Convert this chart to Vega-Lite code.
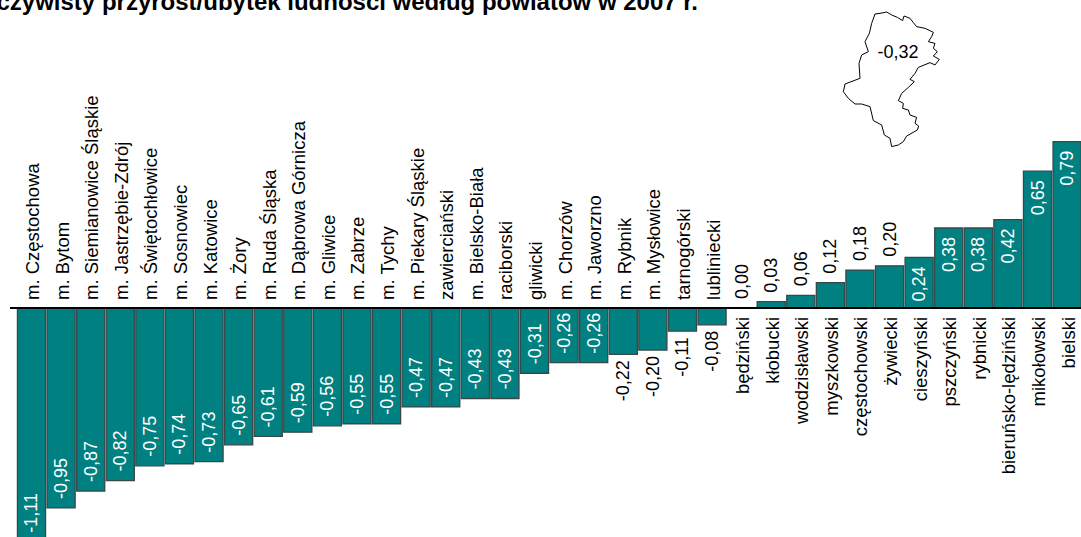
{"$schema":"https://vega.github.io/schema/vega-lite/v6.json","width":1081,"height":537,"padding":0,"autosize":{"type":"none"},"background":"white","config":{"view":{"stroke":null},"text":{"font":"Liberation Sans"}},
"datasets":{"bars":[
{"n":"m. Częstochowa","v":-1.11,"l":"-1,11"},{"n":"m. Bytom","v":-0.95,"l":"-0,95"},{"n":"m. Siemianowice Śląskie","v":-0.87,"l":"-0,87"},{"n":"m. Jastrzębie-Zdrój","v":-0.82,"l":"-0,82"},{"n":"m. Świętochłowice","v":-0.75,"l":"-0,75"},{"n":"m. Sosnowiec","v":-0.74,"l":"-0,74"},{"n":"m. Katowice","v":-0.73,"l":"-0,73"},{"n":"m. Żory","v":-0.65,"l":"-0,65"},{"n":"m. Ruda Śląska","v":-0.61,"l":"-0,61"},{"n":"m. Dąbrowa Górnicza","v":-0.59,"l":"-0,59"},{"n":"m. Gliwice","v":-0.56,"l":"-0,56"},{"n":"m. Zabrze","v":-0.55,"l":"-0,55"},{"n":"m. Tychy","v":-0.55,"l":"-0,55"},{"n":"m. Piekary Śląskie","v":-0.47,"l":"-0,47"},{"n":"zawierciański","v":-0.47,"l":"-0,47"},{"n":"m. Bielsko-Biała","v":-0.43,"l":"-0,43"},{"n":"raciborski","v":-0.43,"l":"-0,43"},{"n":"gliwicki","v":-0.31,"l":"-0,31"},{"n":"m. Chorzów","v":-0.26,"l":"-0,26"},{"n":"m. Jaworzno","v":-0.26,"l":"-0,26"},{"n":"m. Rybnik","v":-0.22,"l":"-0,22"},{"n":"m. Mysłowice","v":-0.20,"l":"-0,20"},{"n":"tarnogórski","v":-0.11,"l":"-0,11"},{"n":"lubliniecki","v":-0.08,"l":"-0,08"},{"n":"będziński","v":0.0,"l":"0,00"},{"n":"kłobucki","v":0.03,"l":"0,03"},{"n":"wodzisławski","v":0.06,"l":"0,06"},{"n":"myszkowski","v":0.12,"l":"0,12"},{"n":"częstochowski","v":0.18,"l":"0,18"},{"n":"żywiecki","v":0.20,"l":"0,20"},{"n":"cieszyński","v":0.24,"l":"0,24"},{"n":"pszczyński","v":0.38,"l":"0,38"},{"n":"rybnicki","v":0.38,"l":"0,38"},{"n":"bieruńsko-lędziński","v":0.42,"l":"0,42"},{"n":"mikołowski","v":0.65,"l":"0,65"},{"n":"bielski","v":0.79,"l":"0,79"}],
"outline":[
{"i":1,"lon":18.70,"lat":50.975},{"i":2,"lon":18.80,"lat":50.983},{"i":3,"lon":18.933,"lat":51.0},{"i":4,"lon":19.033,"lat":50.963},{"i":5,"lon":19.147,"lat":50.933},{"i":6,"lon":19.253,"lat":50.892},{"i":7,"lon":19.28,"lat":50.95},{"i":8,"lon":19.40,"lat":50.921},{"i":9,"lon":19.467,"lat":50.867},{"i":10,"lon":19.533,"lat":50.817},{"i":11,"lon":19.70,"lat":50.796},{"i":12,"lon":19.867,"lat":50.746},{"i":13,"lon":19.833,"lat":50.692},{"i":14,"lon":19.767,"lat":50.629},{"i":15,"lon":19.90,"lat":50.608},{"i":16,"lon":19.867,"lat":50.546},{"i":17,"lon":19.947,"lat":50.504},{"i":18,"lon":19.867,"lat":50.45},{"i":19,"lon":19.987,"lat":50.408},{"i":20,"lon":19.90,"lat":50.338},{"i":21,"lon":19.80,"lat":50.367},{"i":22,"lon":19.567,"lat":50.308},{"i":23,"lon":19.50,"lat":50.233},{"i":24,"lon":19.40,"lat":50.158},{"i":25,"lon":19.487,"lat":50.129},{"i":26,"lon":19.367,"lat":50.058},{"i":27,"lon":19.233,"lat":49.983},{"i":28,"lon":19.167,"lat":49.892},{"i":29,"lon":19.267,"lat":49.858},{"i":30,"lon":19.253,"lat":49.796},{"i":31,"lon":19.367,"lat":49.775},{"i":32,"lon":19.40,"lat":49.713},{"i":33,"lon":19.533,"lat":49.683},{"i":34,"lon":19.50,"lat":49.608},{"i":35,"lon":19.573,"lat":49.575},{"i":36,"lon":19.547,"lat":49.525},{"i":37,"lon":19.333,"lat":49.45},{"i":38,"lon":19.267,"lat":49.379},{"i":39,"lon":19.167,"lat":49.338},{"i":40,"lon":19.033,"lat":49.317},{"i":41,"lon":19.00,"lat":49.421},{"i":42,"lon":18.887,"lat":49.463},{"i":43,"lon":18.833,"lat":49.588},{"i":44,"lon":18.667,"lat":49.642},{"i":45,"lon":18.60,"lat":49.817},{"i":46,"lon":18.433,"lat":49.85},{"i":47,"lon":18.30,"lat":49.85},{"i":48,"lon":18.167,"lat":49.921},{"i":49,"lon":18.067,"lat":50.004},{"i":50,"lon":18.10,"lat":50.10},{"i":51,"lon":18.40,"lat":50.171},{"i":52,"lon":18.38,"lat":50.358},{"i":53,"lon":18.433,"lat":50.463},{"i":54,"lon":18.567,"lat":50.504},{"i":55,"lon":18.50,"lat":50.629},{"i":56,"lon":18.587,"lat":50.733},{"i":57,"lon":18.633,"lat":50.858},{"i":58,"lon":18.70,"lat":50.975}]},
"layer":[
{"encoding":{"x":{"field":"n","type":"nominal","sort":null,"axis":null,"scale":{"range":[16.7,1081.9],"paddingInner":0.05,"paddingOuter":0.025}},"y":{"field":"v","type":"quantitative","axis":null,"scale":{"domain":[-1.088,1.463],"nice":false,"zero":false}}},
"data":{"name":"bars"},
"layer":[
{"mark":{"type":"bar","fill":"#008080","stroke":"#37474a","strokeWidth":1.3,"clip":true}},
{"transform":[{"filter":"datum.v<=-0.24"}],"mark":{"type":"text","angle":270,"align":"left","baseline":"middle","dx":9,"dy":1,"fontSize":18,"fill":"white"},"encoding":{"text":{"field":"l"}}},
{"transform":[{"filter":"datum.v>-0.24 && datum.v<0"}],"mark":{"type":"text","angle":270,"align":"right","baseline":"middle","dx":-6,"dy":1,"fontSize":18,"fill":"black"},"encoding":{"text":{"field":"l"}}},
{"transform":[{"filter":"datum.v>=0 && datum.v<0.24"}],"mark":{"type":"text","angle":270,"align":"left","baseline":"middle","dx":9,"dy":1,"fontSize":18,"fill":"black"},"encoding":{"text":{"field":"l"}}},
{"transform":[{"filter":"datum.v>=0.24"}],"mark":{"type":"text","angle":270,"align":"right","baseline":"middle","dx":-9,"dy":1,"fontSize":18,"fill":"white"},"encoding":{"text":{"field":"l"}}},
{"transform":[{"filter":"datum.v<0"}],"mark":{"type":"text","angle":270,"align":"left","baseline":"middle","dx":8,"dy":1.5,"fontSize":18.5,"fill":"black"},"encoding":{"y":{"datum":0},"text":{"field":"n"}}},
{"transform":[{"filter":"datum.v>=0"}],"mark":{"type":"text","angle":270,"align":"right","baseline":"middle","dx":-9,"dy":1.5,"fontSize":18.5,"fill":"black"},"encoding":{"y":{"datum":0},"text":{"field":"n"}}}
]},
{"encoding":{"x":{"field":"lon","type":"quantitative","axis":null,"scale":{"domain":[1.2,22.82],"nice":false,"zero":false}},"y":{"field":"lat","type":"quantitative","axis":null,"scale":{"domain":[44.4375,51.15],"nice":false,"zero":false}}},
"layer":[
{"data":{"name":"outline"},"mark":{"type":"line","stroke":"black","strokeWidth":1,"interpolate":"linear"},"encoding":{"order":{"field":"i","type":"ordinal"}}},
{"data":{"values":[{"lon":1.4,"lon2":22.82,"lat":47.3}]},"mark":{"type":"rule","stroke":"black","strokeWidth":2},"encoding":{"x2":{"field":"lon2"}}},
{"data":{"values":[{"lon":19.16,"lat":50.4875,"t":"-0,32"}]},"mark":{"type":"text","align":"center","baseline":"middle","fontSize":18,"fill":"black"},"encoding":{"text":{"field":"t"}}},
{"data":{"values":[{"lon":15.16,"lat":51.025,"t":"Rzeczywisty przyrost/ubytek ludności według powiatów w 2007 r."}]},"mark":{"type":"text","align":"right","baseline":"alphabetic","fontSize":24,"fontWeight":"bold","fill":"black"},"encoding":{"text":{"field":"t"}}}
]}
],
"resolve":{"scale":{"x":"independent","y":"independent"}}}
